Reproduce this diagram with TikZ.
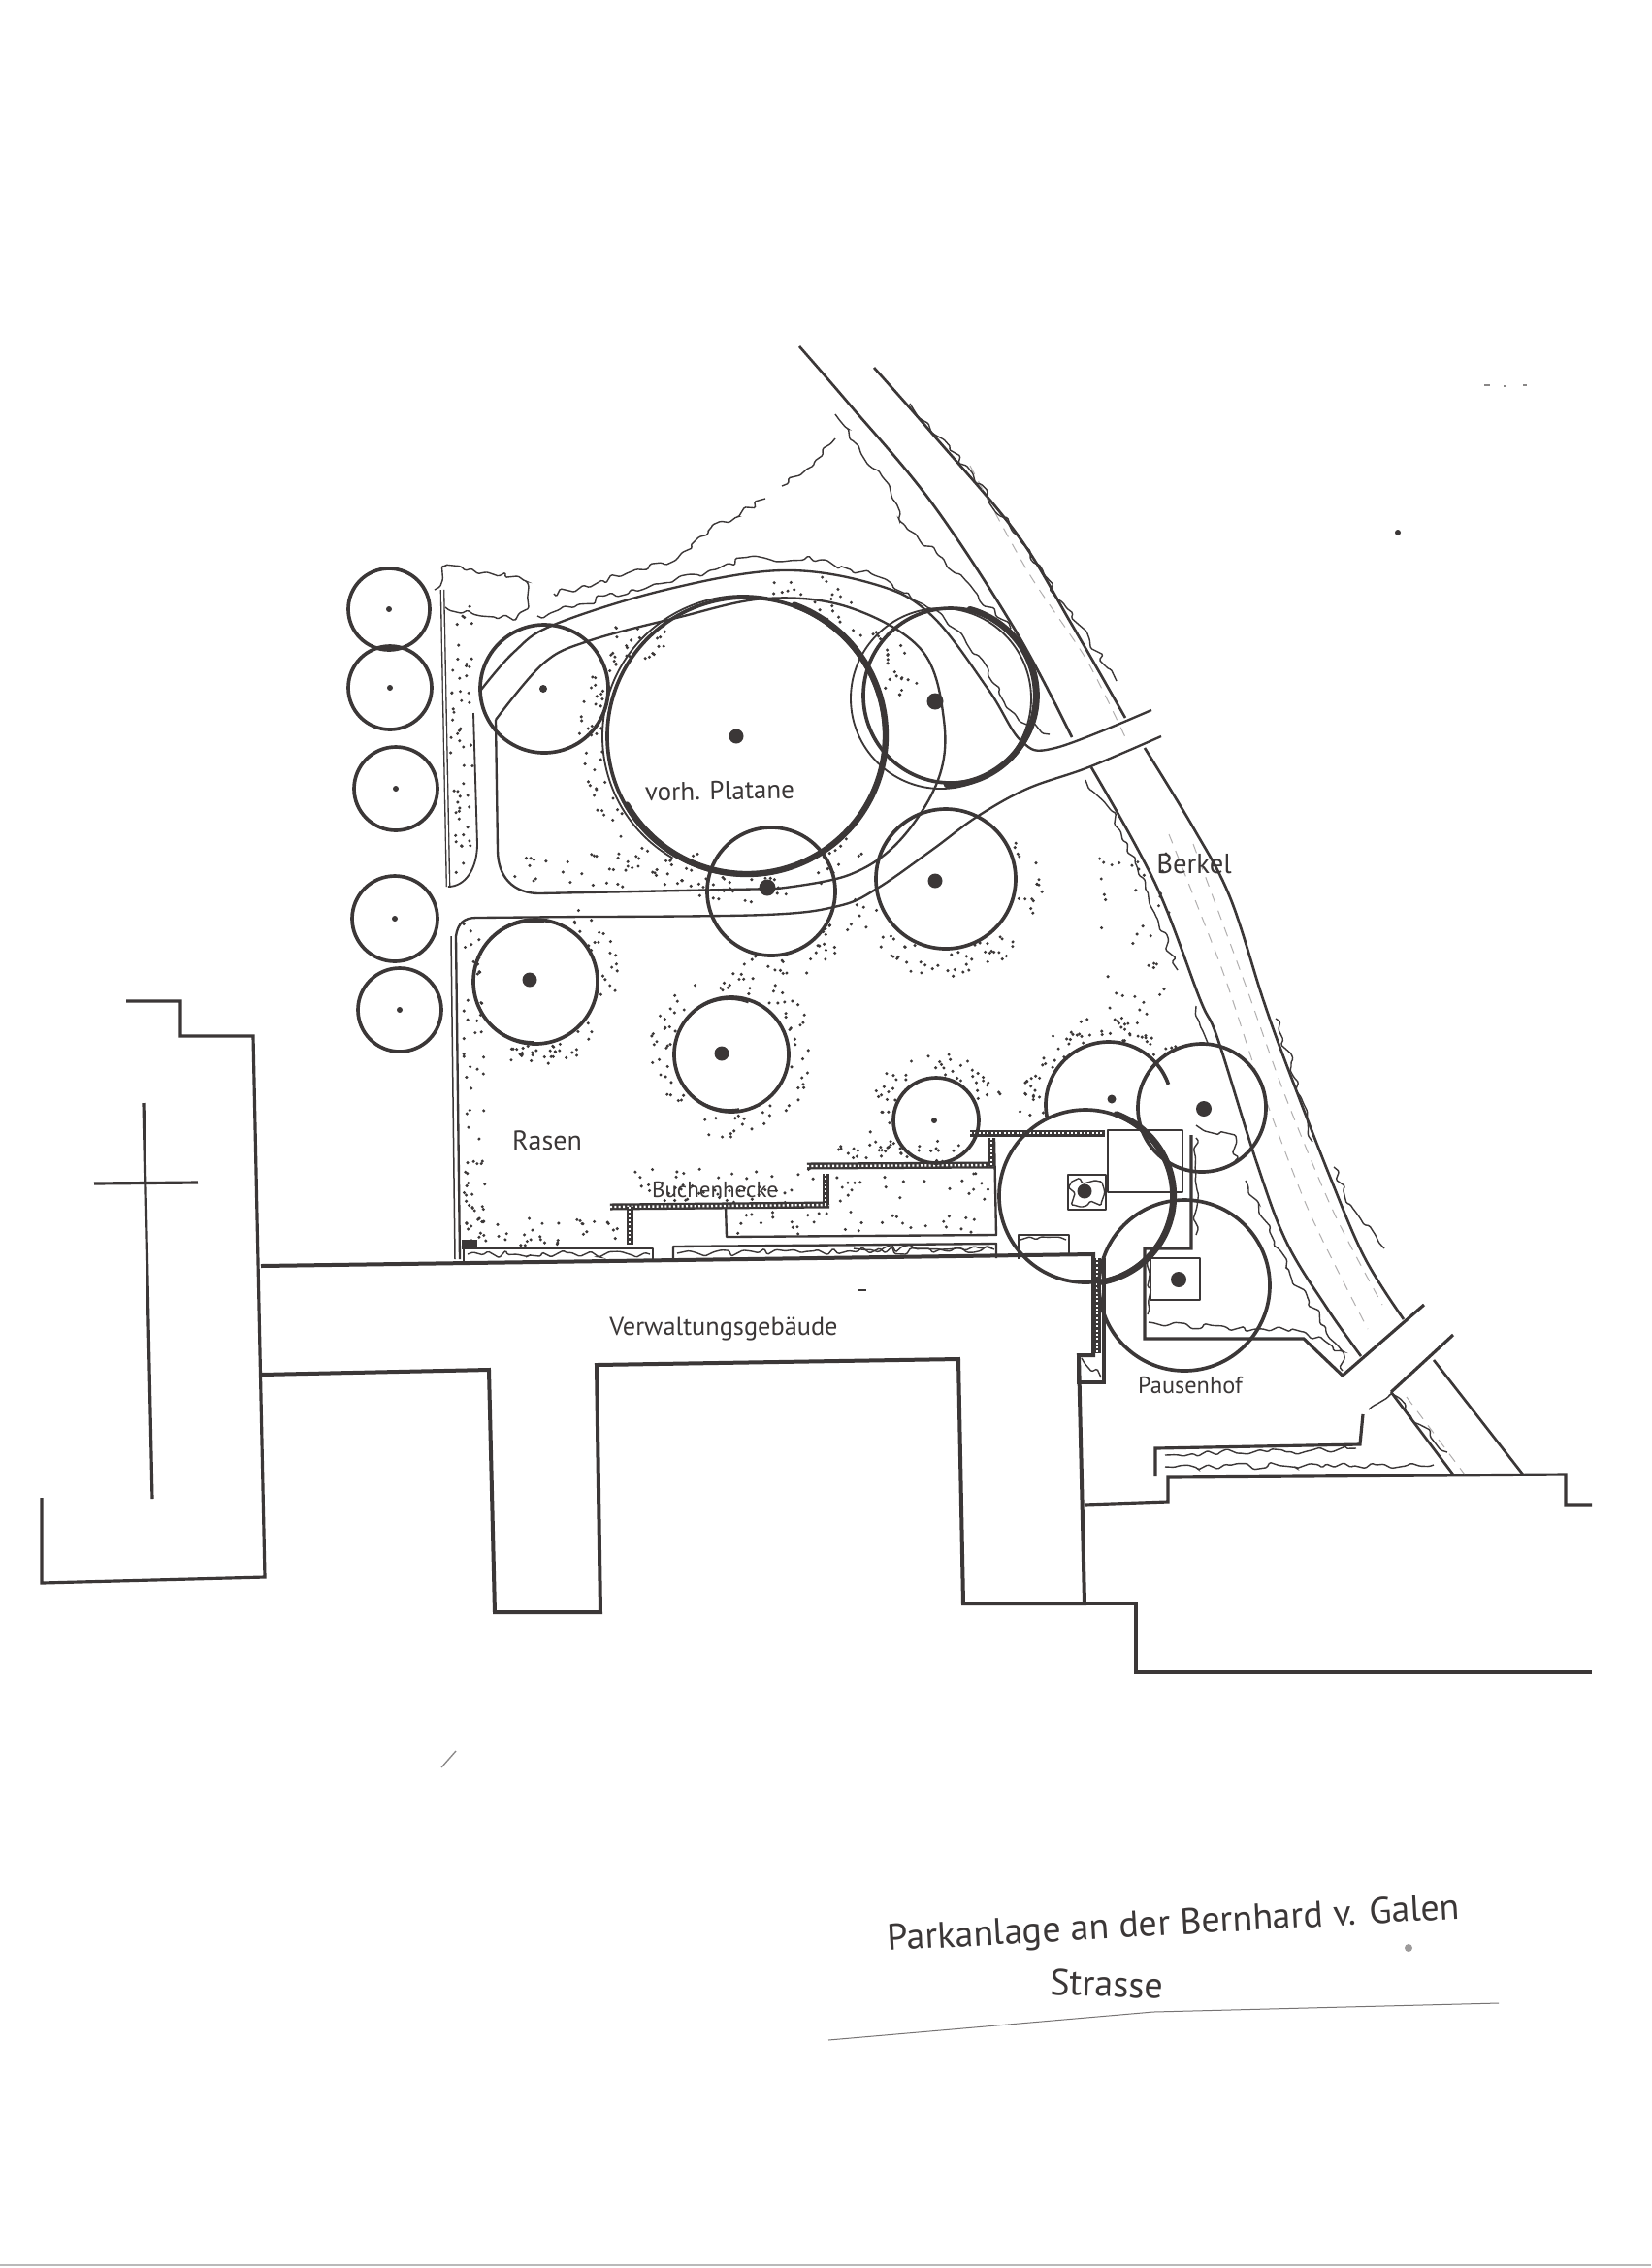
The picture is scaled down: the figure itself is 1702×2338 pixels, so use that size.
\documentclass[tikz,border=0pt]{standalone}
\usepackage{fontspec}
\setmainfont{PT Sans}
\usetikzlibrary{decorations.pathmorphing}
\definecolor{ink}{HTML}{3B3737}
\newcommand{\lbl}[1]{\fontsize{#1}{#1}\selectfont}
% stippling in a ring: cx cy rin rout a1 a2 n
\newcommand{\stipring}[7]{%
  \foreach \i in {1,...,#7}{%
    \pgfmathsetmacro\sa{#5+rnd*(#6-#5)}%
    \pgfmathsetmacro\sr{#3+rnd*(#4-#3)}%
    \fill[ink] ({#1+\sr*cos(\sa)},{#2+\sr*sin(\sa)}) circle[radius=1.7];%
  }}
% stippling in a box: x1 y1 x2 y2 n
\newcommand{\stipbox}[5]{%
  \foreach \i in {1,...,#5}{%
    \pgfmathsetmacro\sx{#1+rnd*(#3-#1)}%
    \pgfmathsetmacro\sy{#2+rnd*(#4-#2)}%
    \fill[ink] (\sx,\sy) circle[radius=1.7];%
  }}
% circular arc: cx cy r a1 a2 style
\newcommand{\carc}[6]{\draw[#6] plot[domain=#4:#5,samples=60,smooth] ({#1+#3*cos(\x)},{#2+#3*sin(\x)});}
% hedge band
\newcommand{\hedge}[1]{\draw[ink,line width=2.1pt] #1; \draw[white,line width=0.7pt,dash pattern=on 0.6pt off 0.7pt] #1;}
\tikzset{
  tree/.style={draw=ink,line width=1.1pt},
  treethin/.style={draw=ink,line width=0.55pt},
  treefat/.style={draw=ink,line width=1.9pt,line cap=round},
  wall/.style={draw=ink,line width=0.95pt,line join=miter},
  edge/.style={draw=ink,line width=0.7pt,line join=round},
  squig/.style={draw=ink,line width=0.42pt,rounded corners=0.4pt,decorate,
    decoration={random steps,segment length=2.2pt,amplitude=1.2pt}},
  faint/.style={draw=ink!40,line width=0.3pt,dash pattern=on 3pt off 2.5pt},
  label/.style={text=ink,inner sep=0pt},
}
\begin{document}
\begin{tikzpicture}[x=0.3pt,y=-0.3pt]
\pgfmathsetseed{4711}
\fill[white] (0,0) rectangle (1702,2338);
\useasboundingbox (0,0) rectangle (1702,2338);

% ---------- stippling
\stipring{769}{759}{147}{172}{45}{215}{90}
\stipring{769}{759}{147}{185}{280}{345}{45}
\stipring{754}{1087}{62}{86}{0}{360}{85}
\stipring{965}{1155}{47}{72}{130}{345}{55}
\stipring{552}{1012}{66}{88}{-60}{110}{55}
\stipring{975}{906}{74}{102}{-30}{170}{65}
\stipring{795}{919}{66}{92}{20}{120}{28}
\stipring{1143}{1139}{67}{92}{170}{320}{60}
\stipbox{464}{625}{488}{905}{55}
\stipbox{520}{880}{730}{915}{40}
\stipbox{625}{645}{695}{680}{22}
\stipbox{478}{950}{500}{1280}{60}
\stipbox{480}{1255}{640}{1284}{40}
\stipbox{650}{1205}{845}{1240}{48}
\stipbox{860}{1175}{995}{1198}{26}
\stipbox{756}{1248}{1020}{1272}{32}
\stipbox{860}{1208}{1020}{1240}{22}
\stipbox{1133}{880}{1205}{1070}{42}

% ---------- church
\draw[wall] (130,1032) -- (186,1032) -- (186,1068) -- (261,1068) -- (273,1626) -- (43,1632) -- (43,1544);
\draw[wall] (148,1137) -- (157,1545);
\draw[wall] (97,1220) -- (204,1219);

% ---------- administration building
\draw[wall,line width=1.2pt] (269,1305) -- (1127,1293) -- (1127,1397) -- (1112,1397) -- (1118,1653) -- (993,1653) -- (988,1401) -- (615,1407) -- (619,1662) -- (510,1662) -- (504,1412) -- (269,1417);
\draw[wall] (1118,1551) -- (1204,1548) -- (1204,1523) -- (1614,1520) -- (1614,1551) -- (1641,1551);
\draw[wall] (1118,1653) -- (1171,1653) -- (1171,1724) -- (1641,1724);
\draw[wall] (1112,1397) -- (1112,1425) -- (1138,1425) -- (1138,1297);

% ---------- river
\draw[edge,line width=0.8pt] plot[smooth,tension=0.6] coordinates {(824,357) (875,416) (961,519) (1048,652) (1105,760)};
\draw[edge,line width=0.8pt] plot[smooth,tension=0.6] coordinates {(901,379) (961,447) (1048,550) (1105,644) (1160,740)};
\draw[edge,line width=0.8pt] plot[smooth,tension=0.6] coordinates {(1125,791) (1191,911) (1237,1030) (1255,1070) (1295,1197) (1326,1280) (1367,1347) (1403,1398)};
\draw[edge,line width=0.8pt] plot[smooth,tension=0.6] coordinates {(1180,771) (1230,853) (1268,925) (1302,1030) (1326,1097) (1371,1213) (1407,1297) (1447,1360)};
\draw[edge,line width=0.8pt] (1434,1435) -- (1498,1520);
\draw[edge,line width=0.8pt] (1478,1402) -- (1570,1520);
\draw[wall] (1434,1435) -- (1498,1376);
\draw[wall] (1468,1345) -- (1384,1418) -- (1344,1380) -- (1180,1380) -- (1180,1287) -- (1228,1287) -- (1228,1170);
\draw[wall] (1191,1522) -- (1191,1493) -- (1402,1489) -- (1405,1458);
\draw[faint] plot[smooth] coordinates {(1000,480) (1060,590) (1120,680) (1160,760)};
\draw[faint] plot[smooth] coordinates {(1205,860) (1260,1000) (1300,1120) (1350,1250) (1410,1370)};
\draw[faint] plot[smooth] coordinates {(1230,870) (1282,1010) (1325,1130) (1375,1250) (1425,1345)};
\draw[faint] plot[smooth] coordinates {(1450,1440) (1480,1480) (1510,1520)};

% ---------- paths
\draw[edge] plot[smooth,tension=0.6] coordinates {(496,711) (530,672) (571,644) (686,608) (806,588) (904,603) (961,635) (1019,711) (1053,764) (1088,771) (1187,732)};
\draw[edge] plot[smooth,tension=0.6] coordinates {(511,742) (560,684) (606,661) (697,637) (789,617) (875,626) (950,670) (973,742) (967,804) (927,867) (875,902) (801,916)};
\draw[edge] (801,916) -- (556,921) .. controls (530,921) and (513,905) .. (513,876) -- (511,742);
\draw[edge] plot[smooth,tension=0.6] coordinates {(1197,759) (1122,791) (1059,813) (1007,842) (961,876) (904,916) (864,934) (789,943) (600,945)};
\draw[edge] (600,945) -- (491,946) .. controls (478,946) and (472,952) .. (470,965) -- (474,1298);
\draw[edge,line width=0.45pt] (465,965) -- (469,1298);
\draw[edge,double distance=0.6pt,line width=0.4pt] (456,608) -- (462,914);
\draw[edge,line width=0.55pt] (462,914) .. controls (480,914) and (492,895) .. (492,870) -- (488,735);

% ---------- beds and hedges
\draw[edge] (478,1300) -- (478,1287) -- (673,1287) -- (673,1300);
\draw[edge] (694,1299) -- (694,1285) -- (1027,1282) -- (1027,1297);
\draw[edge] (748,1243) -- (749,1275) -- (1027,1273) -- (1025,1173);
\draw[edge] (1050,1298) -- (1050,1273) -- (1102,1273) -- (1102,1292);
\draw[edge] (1142,1165) -- (1219,1165) -- (1219,1229) -- (1142,1229) -- cycle;
\draw[edge] (1101,1211) rectangle (1140,1247);
\draw[edge] (1186,1297) rectangle (1237,1340);
\hedge{(629,1244) -- (855,1242)}
\hedge{(649,1244) -- (649,1283)}
\hedge{(851,1210) -- (851,1242)}
\hedge{(832,1202) -- (1025,1201)}
\hedge{(1022,1173) -- (1022,1202)}
\hedge{(1000,1168) -- (1139,1168)}
\hedge{(1131,1297) -- (1131,1395)}
\fill[ink] (476,1278) rectangle (492,1288);

% ---------- squiggles
\draw[squig] plot coordinates {(861,427) (881,456) (910,492) (927,536) (967,572) (1007,612) (1042,648)};
\draw[squig] plot coordinates {(861,452) (830,485) (806,501)};
\draw[squig] plot coordinates {(789,514) (732,545) (697,577) (640,594) (571,612)};
\draw[squig] plot coordinates {(554,635) (651,608) (732,588) (772,574) (847,577) (904,594) (956,626) (990,652) (1019,697) (1047,737) (1082,757)};
\draw[squig] plot coordinates {(448,608) (459,583) (502,590) (542,599) (545,626) (531,639) (496,635) (459,626)};
\draw[squig] plot coordinates {(938,416) (1002,487) (1053,559) (1099,626) (1151,702)};
\draw[squig] plot coordinates {(1119,804) (1145,835) (1180,907) (1191,943) (1214,1000)};
\draw[squig] plot coordinates {(1233,1037) (1245,1075)};
\draw[squig] plot coordinates {(1284,1217) (1309,1270) (1331,1317) (1349,1340) (1384,1393)};
\draw[squig] plot coordinates {(1315,1050) (1331,1097) (1353,1177)};
\draw[squig] plot coordinates {(1375,1203) (1393,1243) (1427,1287)};
\draw[squig] plot coordinates {(1233,1160) (1273,1170) (1273,1197)};
\draw[squig] plot coordinates {(1233,1173) (1233,1273)};
\draw[squig] plot coordinates {(1184,1363) (1295,1370) (1344,1373) (1384,1393) (1384,1413)};
\draw[squig] plot coordinates {(1201,1500) (1398,1493)};
\draw[squig] plot coordinates {(1201,1512) (1478,1510)};
\draw[squig] plot coordinates {(1411,1453) (1434,1437) (1492,1497)};
\draw[squig] plot coordinates {(1052,1278) (1099,1278)};
\draw[squig] plot coordinates {(880,1287) (1023,1287)};
\draw[squig] plot coordinates {(482,1293) (670,1293)};
\draw[squig] plot coordinates {(698,1292) (1025,1288)};
\draw[squig] plot coordinates {(1105,1218) (1135,1218) (1135,1242) (1105,1242) (1105,1218)};
\draw[squig] plot coordinates {(1183,1295) (1183,1355)};
\draw[squig] plot coordinates {(1115,1400) (1135,1420)};

% ---------- trees
\draw[tree] (401,628) circle[radius=42];
\draw[tree] (402,709) circle[radius=43];
\draw[tree] (408,813) circle[radius=43];
\draw[tree] (407,947) circle[radius=44];
\draw[tree] (412,1041) circle[radius=43];
\draw[tree] (561,710) circle[radius=66];
\draw[tree] (769,759) circle[radius=143];
\carc{770}{758}{143}{-70}{150}{treefat}
\carc{766}{759}{145}{120}{280}{treethin}
\draw[tree] (552,1012) circle[radius=64];
\carc{550}{1012}{62}{90}{280}{treethin}
\draw[treethin] (970,720) circle[radius=93];
\draw[tree] (980,717) circle[radius=90];
\carc{976}{717}{92}{-75}{90}{treefat}
\draw[tree] (795,919) circle[radius=66];
\draw[tree] (975,906) circle[radius=72];
\draw[tree] (754,1087) circle[radius=59];
\carc{752}{1087}{57}{80}{290}{treethin}
\draw[tree] (965,1155) circle[radius=44];
\carc{1143}{1139}{65}{168}{341}{tree}
\draw[tree] (1239,1142) circle[radius=66];
\draw[tree] (1119,1233) circle[radius=89];
\carc{1120}{1233}{90}{-70}{80}{treefat}
\draw[tree] (1221,1325) circle[radius=88];

% tree centres
\foreach \px/\py/\pr in {401/628/3,402/709/3,408/813/3,407/947/3,412/1041/3,560/710/4,759/759/7.5,
  964/723/8.5,791/915/8.5,964/908/7.5,546/1010/7.5,744/1086/7.5,963/1155/3,1146/1133/4.5,
  1241/1143/8,1118/1228/7.5,1215/1319/8}{
  \fill[ink] (\px,\py) circle[radius=\pr];
}

% ---------- labels
\node[label,rotate=1] (platane) at (742,815) {\lbl{8.1}vorh. Platane};
\node[label] (rasen) at (564,1176) {\lbl{8.4}Rasen};
\node[label] (hecke) at (737,1226) {\lbl{6.9}Buchenhecke};
\node[label] (verw) at (746,1370) {\lbl{7.9}Verwaltungsgebäude};
\node[label] (pause) at (1227,1428) {\lbl{7.3}Pausenhof};
\node[label] (berkel) at (1231,891) {\lbl{8.6}Berkel};
\node[label,rotate=3.2] (title) at (1210,1985) {\lbl{11.4}Parkanlage an der Bernhard v. Galen};
\node[label,rotate=-2] (strasse) at (1141,2045) {\lbl{11.4}Strasse};

% ---------- title rule, scan edge and specks
\draw[ink!70,line width=0.3pt] (854,2103) -- (1189,2074) -- (1545,2065);
\draw[ink!35,line width=0.4pt] (0,2335) -- (1702,2335);
\fill[ink] (1441,549) circle[radius=3];
\draw[ink!60,line width=0.4pt] (1530,397) -- (1536,397) (1550,398) -- (1553,398) (1570,397) -- (1574,397);
\draw[ink!60,line width=0.4pt] (455,1822) -- (470,1805);
\fill[ink!50] (1452,2008) circle[radius=4];
\draw[ink,line width=0.6pt] (885,1330) -- (893,1330);
\end{tikzpicture}
\end{document}
